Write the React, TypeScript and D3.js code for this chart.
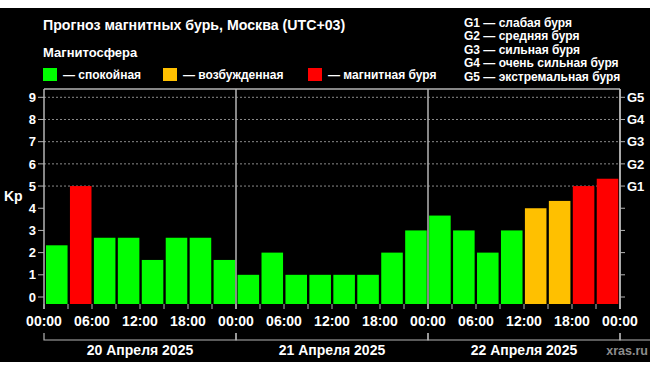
import React from "react";
import * as d3 from "d3";

const kpValues: number[] = [
  2.33, 5, 2.67, 2.67, 1.67, 2.67, 2.67, 1.67,
  1, 2, 1, 1, 1, 1, 2, 3,
  3.67, 3, 2, 3, 4, 4.33, 5, 5.33,
];
const kpLevels: string[] = [
  "g", "r", "g", "g", "g", "g", "g", "g",
  "g", "g", "g", "g", "g", "g", "g", "g",
  "g", "g", "g", "g", "y", "y", "r", "r",
];
const days: string[] = ["20 Апреля 2025", "21 Апреля 2025", "22 Апреля 2025"];
const yTicks: number[] = [0, 1, 2, 3, 4, 5, 6, 7, 8, 9];
const gridTicks: number[] = [5, 6, 7, 8, 9];
const gLabels: string[] = ["G1", "G2", "G3", "G4", "G5"];
const gLegend: string[] = [
  "G1 — слабая буря",
  "G2 — средняя буря",
  "G3 — сильная буря",
  "G4 — очень сильная буря",
  "G5 — экстремальная буря",
];
const legendItems: { key: string; label: string }[] = [
  { key: "g", label: "— спокойная" },
  { key: "y", label: "— возбужденная" },
  { key: "r", label: "— магнитная буря" },
];

const COLORS: Record<string, string> = { g: "#00ff00", y: "#ffc000", r: "#ff0000" };
const FONT = "'Liberation Sans', Arial, sans-serif";

export default function App() {
  const W = 650, H = 371;
  const left = 44, right = 620, top = 89, bottom = 304;
  const t0 = new Date(2025, 3, 20, 0, 0);
  const t1 = new Date(2025, 3, 23, 0, 0);
  const x = d3.scaleTime().domain([t0, t1]).range([left, right]);
  const y = d3.scaleLinear().domain([0, 9]).range([297, 97.3]);
  const band = d3
    .scaleBand<number>()
    .domain(d3.range(kpValues.length))
    .range([46, 618.3])
    .paddingInner(0.1)
    .paddingOuter(0);

  const ticks3h = d3.timeHour.every(3)!.range(t0, d3.timeMinute.offset(t1, 1));
  const ticks6h = d3.timeHour.every(6)!.range(t0, d3.timeMinute.offset(t1, 1));
  const dayStarts = d3.timeDay.range(t0, d3.timeMinute.offset(t1, 1));
  const fmt = d3.timeFormat("%H:%M");
  const lineColor = "#b4b4b4";

  const legendX = [43, 163, 308];

  return (
    <svg width={W} height={H} style={{ position: "absolute", left: 0, top: 0, display: "block" }}>
      <rect x={0} y={0} width={W} height={H} fill="#ffffff" />
      <rect x={0} y={8} width={W} height={354} fill="#000000" />

      <text x={43} y={30} fill="#fff" fontFamily={FONT} fontWeight="bold" fontSize={14.2}>
        Прогноз магнитных бурь, Москва (UTC+03)
      </text>
      <text x={43} y={57} fill="#fff" fontFamily={FONT} fontWeight="bold" fontSize={13}>
        Магнитосфера
      </text>
      {legendItems.map((it, i) => (
        <g key={it.key}>
          <rect x={legendX[i]} y={68} width={14} height={13} fill={COLORS[it.key]} />
          <text x={legendX[i] + 20} y={79} fill="#fff" fontFamily={FONT} fontWeight="bold" fontSize={12}>
            {it.label}
          </text>
        </g>
      ))}
      {gLegend.map((s, i) => (
        <text key={s} x={464} y={27 + i * 13.4} fill="#fff" fontFamily={FONT} fontWeight="bold" fontSize={12}>
          {s}
        </text>
      ))}

      {/* grid */}
      {gridTicks.map((v) => (
        <line key={v} x1={left} x2={right} y1={y(v)} y2={y(v)} stroke="#8a8a8a" strokeWidth={1} strokeDasharray="2,2" />
      ))}

      {/* bars */}
      {kpValues.map((v, i) => (
        <rect
          key={i}
          x={band(i)!}
          y={y(v)}
          width={band.bandwidth()}
          height={bottom - y(v)}
          fill={COLORS[kpLevels[i]]}
        />
      ))}

      {/* frame */}
      <line x1={left} x2={right} y1={top} y2={top} stroke={lineColor} strokeWidth={1.5} />
      {dayStarts.concat([t1]).map((d, i) => (
        <line key={i} x1={x(d)} x2={x(d)} y1={top} y2={bottom + 5} stroke={lineColor} strokeWidth={1.5} />
      ))}

      {/* left axis */}
      {yTicks.map((v) => (
        <g key={v}>
          <line x1={left - 6} x2={left} y1={y(v)} y2={y(v)} stroke={lineColor} strokeWidth={1} />
          <text x={36} y={y(v)} dy="0.36em" textAnchor="end" fill="#fff" fontFamily={FONT} fontWeight="bold" fontSize={13}>
            {v}
          </text>
          <line x1={right} x2={right + 5} y1={y(v)} y2={y(v)} stroke={lineColor} strokeWidth={1} />
        </g>
      ))}
      <text x={4} y={y(5) + 10} dy="0.36em" fill="#fff" fontFamily={FONT} fontWeight="bold" fontSize={14}>
        Kp
      </text>
      {gLabels.map((g, i) => (
        <text key={g} x={627} y={y(5 + i)} dy="0.36em" fill="#fff" fontFamily={FONT} fontWeight="bold" fontSize={13}>
          {g}
        </text>
      ))}

      {/* bottom axis */}
      {ticks3h.map((d, i) => (
        <line key={i} x1={x(d)} x2={x(d)} y1={bottom} y2={bottom + 5} stroke={lineColor} strokeWidth={1} />
      ))}
      {ticks6h.map((d, i) => (
        <text key={i} x={x(d)} y={325.5} textAnchor="middle" fill="#fff" fontFamily={FONT} fontWeight="bold" fontSize={14}>
          {fmt(d)}
        </text>
      ))}

      {/* day brackets */}
      {dayStarts.map((d, i) => {
        const x0 = x(d);
        const x1 = x(d3.timeDay.offset(d, 1));
        return (
          <g key={i}>
            <path d={`M${x0},333V340H${x1}V333`} fill="none" stroke={lineColor} strokeWidth={1.2} />
            <text x={(x0 + x1) / 2} y={355} textAnchor="middle" fill="#fff" fontFamily={FONT} fontWeight="bold" fontSize={14}>
              {days[i]}
            </text>
          </g>
        );
      })}
      <text x={648} y={354.5} textAnchor="end" fill="#8c8c8c" fontFamily={FONT} fontWeight="bold" fontSize={12.5}>
        xras.ru
      </text>
    </svg>
  );
}
